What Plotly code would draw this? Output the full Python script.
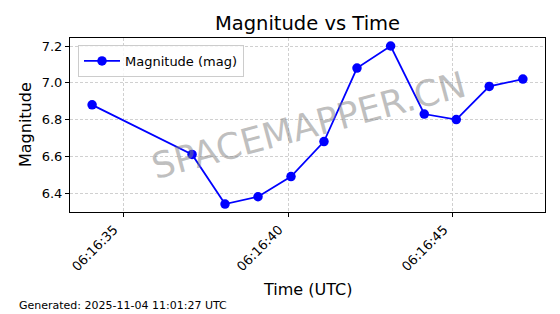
import plotly.graph_objects as go

times = ["2025-11-04 06:16:34.06", "2025-11-04 06:16:37.09", "2025-11-04 06:16:38.09",
         "2025-11-04 06:16:39.09", "2025-11-04 06:16:40.09", "2025-11-04 06:16:41.09",
         "2025-11-04 06:16:42.09", "2025-11-04 06:16:43.11", "2025-11-04 06:16:44.13",
         "2025-11-04 06:16:45.10", "2025-11-04 06:16:46.10", "2025-11-04 06:16:47.12"]
magnitude = [6.88, 6.61, 6.34, 6.38, 6.49, 6.68, 7.08, 7.20, 6.83, 6.80, 6.98, 7.02]
y_ticks = [6.4, 6.6, 6.8, 7.0, 7.2]

W, H = 560, 314
L, R, T, B = 70, 545, 38, 212


def px(x):
    return (x - L) / (R - L)


def py(y):
    return (B - y) / (B - T)


fig = go.Figure()
fig.add_trace(go.Scatter(
    x=times, y=magnitude, mode="lines+markers", name="Magnitude (mag)",
    line=dict(color="#0000ff", width=1.8),
    marker=dict(color="#0000ff", size=9.5),
))

font = "DejaVu Sans, sans-serif"
grid = dict(showgrid=True, gridcolor="#d0d0d0", griddash="3px,2px", gridwidth=1,
            showline=True, linecolor="black", linewidth=1, mirror=True,
            ticks="outside", ticklen=4, tickcolor="black", zeroline=False,
            tickfont=dict(size=13))
fig.update_layout(
    width=W, height=H,
    margin=dict(l=L, r=W - R, t=T, b=H - B, pad=0),
    paper_bgcolor="white", plot_bgcolor="white",
    font=dict(family=font, color="black", size=13),
    showlegend=True,
    legend=dict(x=px(78), y=py(45), xanchor="left", yanchor="top",
                bgcolor="rgba(255,255,255,0.8)", bordercolor="#cccccc", borderwidth=1,
                font=dict(size=13, family=font), tracegroupgap=0, itemwidth=36),
    title=dict(text="Magnitude vs Time", xref="paper", x=0.5, xanchor="center",
               y=1 - 23 / H, yanchor="middle", font=dict(size=19.5, family=font)),
    xaxis=dict(
        type="date", range=["2025-11-04 06:16:33.39", "2025-11-04 06:16:47.79"],
        dtick=5000, tick0="2025-11-04 06:16:35", tickformat="%H:%M:%S", tickangle=-45,
        ticklabelshift=-9, **grid,
    ),
    yaxis=dict(
        range=[6.297, 7.2435], tickvals=y_ticks, ticktext=[f"{v:.1f}" for v in y_ticks],
        **grid,
    ),
    annotations=[
        dict(text="Time (UTC)", x=px((L + R) / 2), y=py(289), xref="paper", yref="paper",
             xanchor="center", yanchor="middle", showarrow=False, font=dict(size=16, family=font)),
        dict(text="Magnitude", x=px(25), y=py(125), xref="paper", yref="paper",
             xanchor="center", yanchor="middle", textangle=-90, showarrow=False,
             font=dict(size=16, family=font)),
        dict(text="Generated: 2025-11-04 11:01:27 UTC", x=px(17), y=py(305), xref="paper", yref="paper",
             xanchor="left", yanchor="middle", showarrow=False, font=dict(size=11, family=font)),
        dict(text="SPACEMAPPER.CN", x=px(308), y=py(125), xref="paper", yref="paper",
             xanchor="center", yanchor="middle", textangle=-15, showarrow=False,
             font=dict(size=36, family=font, color="rgba(128,128,128,0.5)")),
    ],
)

fig.write_html("out.html")
